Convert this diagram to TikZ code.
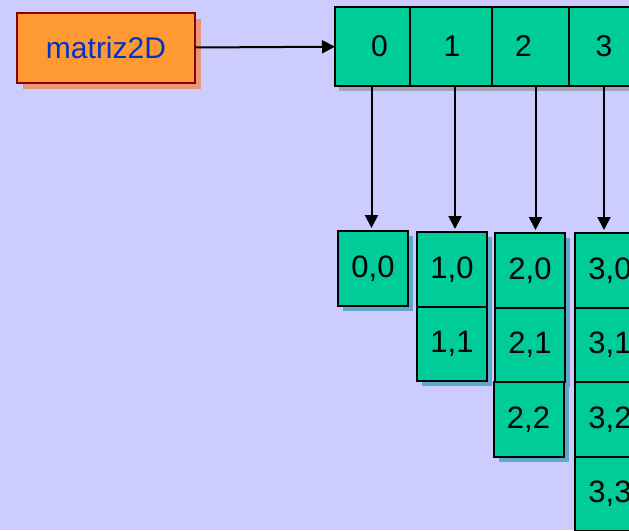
\documentclass[tikz,border=0pt]{standalone}
\usepackage{fontspec}
\setmainfont{Liberation Sans}
\usetikzlibrary{positioning,shadows,arrows.meta}
\definecolor{fondo}{HTML}{CCCCFF}
\definecolor{verde}{HTML}{00CC99}
\definecolor{naranja}{HTML}{FF9933}
\definecolor{rojooscuro}{HTML}{8B0000}
\definecolor{azultexto}{HTML}{0033CC}
\definecolor{sombraazul}{HTML}{5FA8CC}
\definecolor{sombragris}{HTML}{A3A3B8}
\definecolor{sombranaranja}{HTML}{E8967A}

\begin{document}
\begin{tikzpicture}[x=1pt, y=-1pt, inner sep=0pt, outer sep=0pt,
    celda/.style={draw=black, line width=2pt, fill=verde, minimum width=70pt, minimum height=74.5pt,
      font=\fontsize{31}{34}\selectfont,
      general shadow={fill=sombraazul, shadow xshift=5pt, shadow yshift=-5pt}},
    indice/.style={draw=black, line width=2pt, fill=verde, minimum height=79pt,
      font=\fontsize{30}{34}\selectfont,
      general shadow={fill=sombragris, shadow xshift=4pt, shadow yshift=-5pt}},
    nombre/.style={draw=rojooscuro, line width=2pt, fill=naranja, text=azultexto,
      minimum width=178pt, minimum height=70pt, font=\fontsize{30}{34}\selectfont,
      general shadow={fill=sombranaranja, shadow xshift=6pt, shadow yshift=-6pt}},
    flecha/.style={line width=2pt, -{Triangle[width=13pt,length=13pt]}}
  ]
  \fill[fondo] (0,0) rectangle (629,530);
  \useasboundingbox (0,0) rectangle (629,530);
  \clip (0,0) rectangle (629,530);

  % variable
  \node[nombre, anchor=north west] (var) at (17,13) {matriz2D};

  % vector de filas
  \node[indice, minimum width=75pt, anchor=north west] (t0) at (335,7) {\hspace*{14pt}0};
  \node[indice, minimum width=82pt, right=0pt of t0] (t1) {\hspace*{2pt}1};
  \node[indice, minimum width=77pt, right=0pt of t1] (t2) {2\hspace*{14pt}};
  \node[indice, minimum width=80pt, right=0pt of t2] (t3) {3\hspace*{10pt}};

  % filas
  \node[celda, anchor=north west] (c00) at (338,231) {\raisebox{-2pt}{0,0}};

  \node[celda, anchor=north west] (c10) at (417,232) {\raisebox{-2pt}{1,0}};
  \node[celda, below=0pt of c10] (c11) {\raisebox{-2pt}{1,1}};

  \node[celda, anchor=north west] (c20) at (495,233) {\raisebox{-2pt}{2,0}};
  \node[celda, below=0pt of c20] (c21) {\raisebox{-2pt}{2,1}};
  \node[celda, below=0pt of c21, xshift=-1.5pt] (c22) {\raisebox{-2pt}{2,2}};

  \node[celda, anchor=north west] (c30) at (575,233) {\raisebox{-2pt}{3,0}};
  \node[celda, below=0pt of c30] (c31) {\raisebox{-2pt}{3,1}};
  \node[celda, below=0pt of c31] (c32) {\raisebox{-2pt}{3,2}};
  \node[celda, below=0pt of c32] (c33) {\raisebox{-2pt}{3,3}};

  % punteros
  \draw[flecha] (var) -- (t0);
  \draw[flecha, shorten >=3pt] ([xshift=-1pt]t0.south) -- ([xshift=-1pt]t0.south |- c00.north);
  \draw[flecha, shorten >=3pt] ([xshift=4pt]t1.south) -- ([xshift=4pt]t1.south |- c10.north);
  \draw[flecha, shorten >=3pt] ([xshift=5pt]t2.south) -- ([xshift=5pt]t2.south |- c20.north);
  \draw[flecha, shorten >=3pt] ([xshift=-5pt]t3.south) -- ([xshift=-5pt]t3.south |- c30.north);
\end{tikzpicture}
\end{document}
